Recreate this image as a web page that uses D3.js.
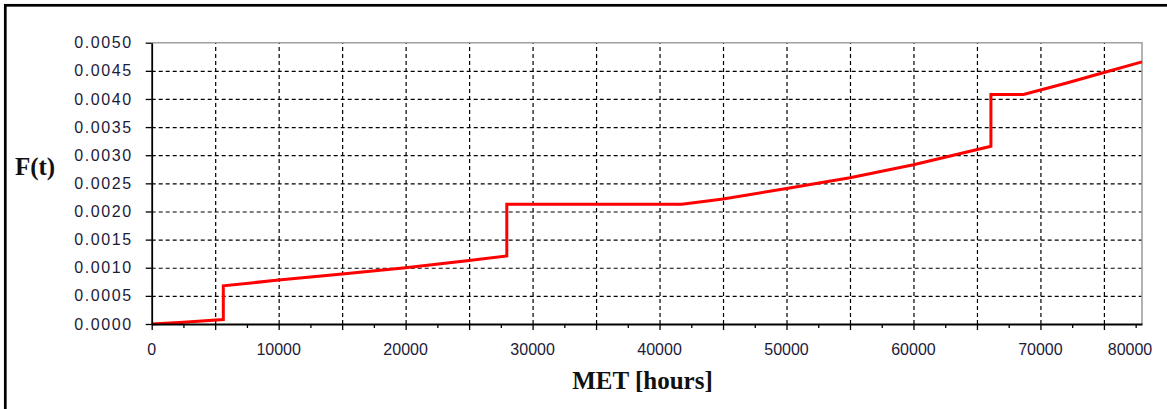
<!DOCTYPE html>
<html>
<head>
<meta charset="utf-8">
<script src="https://cdn.jsdelivr.net/npm/d3@7"></script>
<style>
  body { margin: 0; background: #fff; }
  svg { display: block; }
</style>
</head>
<body>
<script>
'use strict';

// MET in hours and cumulative failure probability F(t)
const metHours = [0, 2500, 5640, 5640, 10000, 15000, 20000, 25000, 27970, 27970,
  41760, 45000, 50000, 55000, 60000, 66100, 66100, 68670, 72000, 75000, 78000];
const failProb = [0, 0.00003, 0.00008, 0.00068, 0.00078, 0.00089, 0.00100, 0.00113, 0.00121, 0.00213,
  0.00213, 0.00222, 0.00241, 0.00260, 0.00283, 0.00316, 0.00408, 0.00408, 0.00428, 0.00447, 0.00466];

// axis ticks
const xLabels = [0, 10000, 20000, 30000, 40000, 50000, 60000, 70000, 80000];
const xGrid = [5000, 10000, 15000, 20000, 25000, 30000, 35000, 40000, 45000, 50000, 55000, 60000, 65000, 70000, 75000];
const xMinor = [2500, 7500, 12500, 17500, 22500, 27500, 32500, 37500, 42500, 47500, 52500, 57500, 62500, 67500, 72500, 77500];
const yTicks = [0, 0.0005, 0.0010, 0.0015, 0.0020, 0.0025, 0.0030, 0.0035, 0.0040, 0.0045, 0.0050];

(function() {
  const width = 1167, height = 409;
  const plotL = 151.7, plotR = 1142, plotT = 42.7, plotB = 324;

  const svg = d3.select('body').append('svg')
    .attr('width', width)
    .attr('height', height);

  // outer frame (only top and left edges visible)
  svg.append('rect')
    .attr('x', 5.3).attr('y', 5.3)
    .attr('width', width + 20).attr('height', height + 20)
    .attr('fill', 'none')
    .attr('stroke', '#000')
    .attr('stroke-width', 2.7);

  const xScale = d3.scaleLinear().domain([0, 78000]).range([plotL, plotR]);
  const yScale = d3.scaleLinear().domain([0, 0.005]).range([plotB, plotT]);

  // vertical grid lines
  svg.append('g')
    .attr('transform', `translate(0, ${plotB})`)
    .call(d3.axisBottom(xScale).tickValues(xGrid).tickSize(-(plotB - plotT)).tickFormat(''))
    .call(g => g.select('.domain').remove())
    .call(g => g.selectAll('.tick line')
      .attr('stroke', '#000').attr('stroke-width', 1.2).attr('stroke-dasharray', '4,3'));

  // horizontal grid lines
  svg.append('g')
    .attr('transform', `translate(${plotL}, 0)`)
    .call(d3.axisLeft(yScale).tickValues(yTicks.slice(1, -1)).tickSize(-(plotR - plotL)).tickFormat(''))
    .call(g => g.select('.domain').remove())
    .call(g => g.selectAll('.tick line')
      .attr('stroke', '#000').attr('stroke-width', 1.2).attr('stroke-dasharray', '4,3'));

  // top and right plot border (grey)
  svg.append('path')
    .attr('d', `M${plotL},${plotT}H${plotR}V${plotB}`)
    .attr('fill', 'none')
    .attr('stroke', '#a0a0a0')
    .attr('stroke-width', 1.6);

  // the curve
  const line = d3.line()
    .x((d, i) => xScale(metHours[i]))
    .y((d, i) => yScale(failProb[i]));

  svg.append('path')
    .datum(failProb)
    .attr('d', line)
    .attr('fill', 'none')
    .attr('stroke', '#ff0000')
    .attr('stroke-width', 3)
    .attr('stroke-linejoin', 'miter');

  // x axis: major ticks and minor ticks
  svg.append('g')
    .attr('transform', `translate(0, ${plotB})`)
    .call(d3.axisBottom(xScale).tickValues([0].concat(xGrid)).tickSize(6).tickFormat('').tickSizeOuter(0))
    .call(g => g.select('.domain').attr('stroke', '#000').attr('stroke-width', 1.8))
    .call(g => g.selectAll('.tick line').attr('stroke', '#000').attr('stroke-width', 1.3));

  svg.append('g')
    .attr('transform', `translate(0, ${plotB})`)
    .call(d3.axisBottom(xScale).tickValues(xMinor).tickSize(4).tickFormat(''))
    .call(g => g.select('.domain').remove())
    .call(g => g.selectAll('.tick line').attr('stroke', '#000').attr('stroke-width', 1.3));

  // x labels (the last one is held inside the plot edge)
  svg.append('g').selectAll('text')
    .data(xLabels)
    .enter()
    .append('text')
      .attr('x', d => Math.min(xScale(d), plotR - 12))
      .attr('y', 355)
      .attr('text-anchor', 'middle')
      .style('font-family', '"Liberation Sans", Arial, sans-serif')
      .style('font-size', '16px')
      .attr('fill', '#1b1b3a')
      .text(d => d3.format('d')(d));

  // y axis
  svg.append('g')
    .attr('transform', `translate(${plotL}, 0)`)
    .call(d3.axisLeft(yScale).tickValues(yTicks).tickSize(6).tickPadding(13).tickFormat(d3.format('.4f')).tickSizeOuter(0))
    .call(g => g.select('.domain').attr('stroke', '#000').attr('stroke-width', 1.8))
    .call(g => g.selectAll('.tick line').attr('stroke', '#000').attr('stroke-width', 1.3))
    .call(g => g.selectAll('.tick text')
      .attr('fill', '#1b1b3a')
      .style('font-family', '"Liberation Sans", Arial, sans-serif')
      .style('font-size', '16px')
      .style('letter-spacing', '1.6px'));

  // axis titles
  svg.append('text')
    .attr('x', 642.5)
    .attr('y', 389)
    .attr('text-anchor', 'middle')
    .style('font-family', '"Liberation Serif", "Times New Roman", serif')
    .style('font-weight', 'bold')
    .style('font-size', '25px')
    .attr('fill', '#111')
    .text('MET [hours]');

  svg.append('text')
    .attr('x', 35)
    .attr('y', 175)
    .attr('text-anchor', 'middle')
    .style('font-family', '"Liberation Serif", "Times New Roman", serif')
    .style('font-weight', 'bold')
    .style('font-size', '25px')
    .attr('fill', '#111')
    .text('F(t)');
})();
</script>
</body>
</html>
